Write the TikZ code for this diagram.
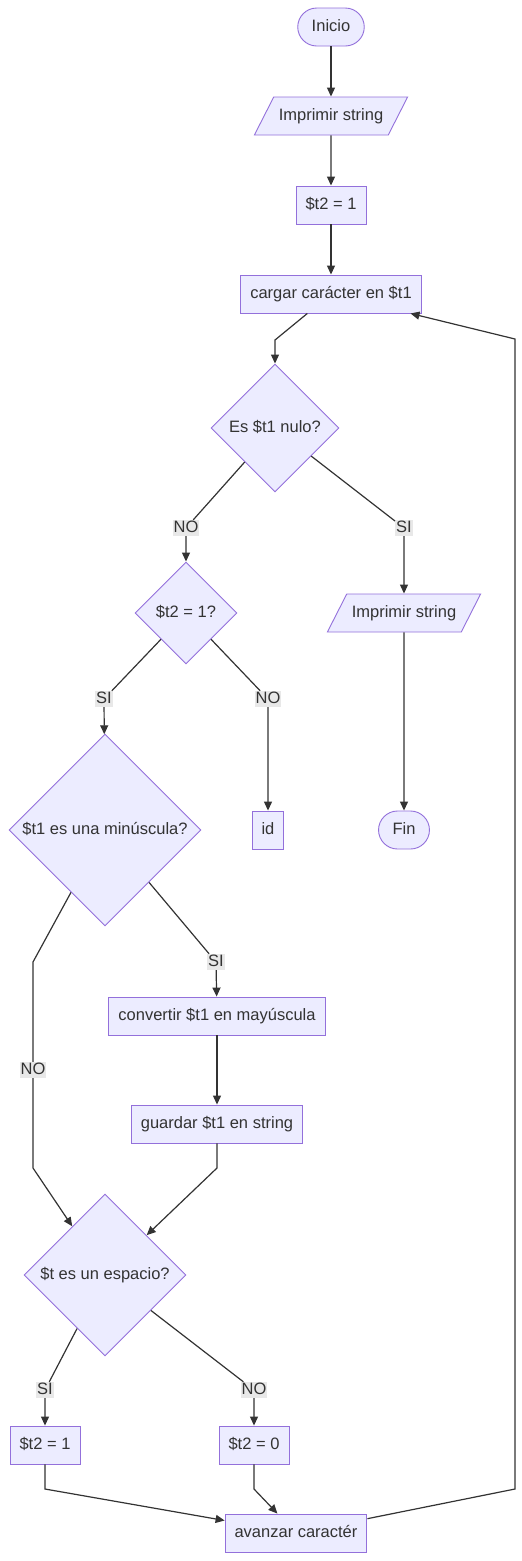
\documentclass[tikz,border=0pt]{standalone}
\usepackage{fontspec}
\setmainfont{Liberation Sans}
\usepackage{tikz}
\usetikzlibrary{arrows.meta, positioning, shapes.geometric}
\definecolor{lila}{HTML}{ECECFF}
\definecolor{violeta}{HTML}{9370DB}
\definecolor{grisoscuro}{HTML}{333333}
\definecolor{grisetiq}{HTML}{E8E8E8}
\tikzset{>={Triangle[length=9pt,width=8pt]}}
\tikzset{
	caja/.style = {draw=violeta, fill=lila, line width=0.9pt, text=grisoscuro, text height=12pt, text depth=4pt, inner ysep=11pt, inner xsep=9.5pt},
	proceso/.style = {caja, rectangle},
	extremo/.style = {caja, rectangle, rounded corners=19pt, inner xsep=14pt},
	datos/.style = {caja, trapezium, trapezium left angle=63, trapezium right angle=117, inner xsep=5pt},
	rombo/.style = {caja, diamond, inner sep=0pt, minimum width=#1, minimum height=#1},
	etiq/.style = {fill=grisetiq, text=grisoscuro, inner xsep=1pt, inner ysep=1pt, text height=11pt, text depth=3pt},
	flujo/.style = {draw=grisoscuro, line width=1.2pt, ->}
}

\begin{document}
\begin{tikzpicture}[x=1pt, y=-1pt, font=\fontsize{16.5}{19}\selectfont]

	\useasboundingbox (0,0) rectangle (522,1561);

	\node[extremo] (inicio) at (331,27) {Inicio};
	\node[datos] (imprimir) at (331,116) {Imprimir string};
	\node[proceso] (tdosuno) at (331,205) {\$t2 = 1};
	\node[proceso] (cargar) at (331,294) {cargar carácter en \$t1};
	\node[rombo=128pt] (nulo) at (275,428) {Es \$t1 nulo?};
	\node[rombo=102pt] (tdospreg) at (186,613) {\$t2 = 1?};
	\node[datos] (imprimirfin) at (404,613) {Imprimir string};
	\node[rombo=192pt] (minus) at (105,830) {\$t1 es una minúscula?};
	\node[proceso] (id) at (268,830) {id};
	\node[extremo] (fin) at (404,830) {Fin};
	\node[proceso] (convertir) at (217,1016) {convertir \$t1 en mayúscula};
	\node[proceso] (guardar) at (217,1124) {guardar \$t1 en string};
	\node[rombo=162pt] (espacio) at (105,1275) {\$t es un espacio?};
	\node[proceso] (tdosa) at (45,1445) {\$t2 = 1};
	\node[proceso] (tdoscero) at (254,1445) {\$t2 = 0};
	\node[proceso] (avanzar) at (296,1533) {avanzar caractér};

	% etiquetas de las ramas
	\node[etiq] (nonulo) at (186,528) {NO};
	\node[etiq] (sinulo) at (404,528) {SI};
	\node[etiq] (sitdos) at (104,699) {SI};
	\node[etiq] (notdos) at (268,699) {NO};
	\node[etiq] (siminus) at (216,962) {SI};
	\node[etiq] (nominus) at (33,1070) {NO};
	\node[etiq] (siesp) at (45,1390) {SI};
	\node[etiq] (noesp) at (254,1390) {NO};

	\draw[flujo] (inicio) -- (imprimir);
	\draw[flujo] (imprimir) -- (tdosuno);
	\draw[flujo] (tdosuno) -- (cargar);
	\draw[flujo] (cargar) -- (275,340) -- (nulo);
	\draw[flujo] (nulo) -- (nonulo) -- (tdospreg);
	\draw[flujo] (nulo) -- (sinulo) -- (imprimirfin);
	\draw[flujo] (imprimirfin) -- (fin);
	\draw[flujo] (tdospreg) -- (sitdos) -- (minus);
	\draw[flujo] (tdospreg) -- (notdos) -- (id);
	\draw[flujo] (minus) -- (siminus) -- (convertir);
	\draw[flujo] (minus) -- (33,962) -- (nominus) -- (33,1168) -- (espacio);
	\draw[flujo] (convertir) -- (guardar);
	\draw[flujo] (guardar) -- (217,1168) -- (espacio);
	\draw[flujo] (espacio) -- (siesp) -- (tdosa);
	\draw[flujo] (espacio) -- (noesp) -- (tdoscero);
	\draw[flujo] (tdosa) -- (45,1489) -- (avanzar);
	\draw[flujo] (tdoscero) -- (254,1489) -- (avanzar);

	%vuelta al inicio del ciclo
	\draw[flujo] (avanzar) -- (515,1489) -- (515,339) -- (cargar);

\end{tikzpicture}
\end{document}
